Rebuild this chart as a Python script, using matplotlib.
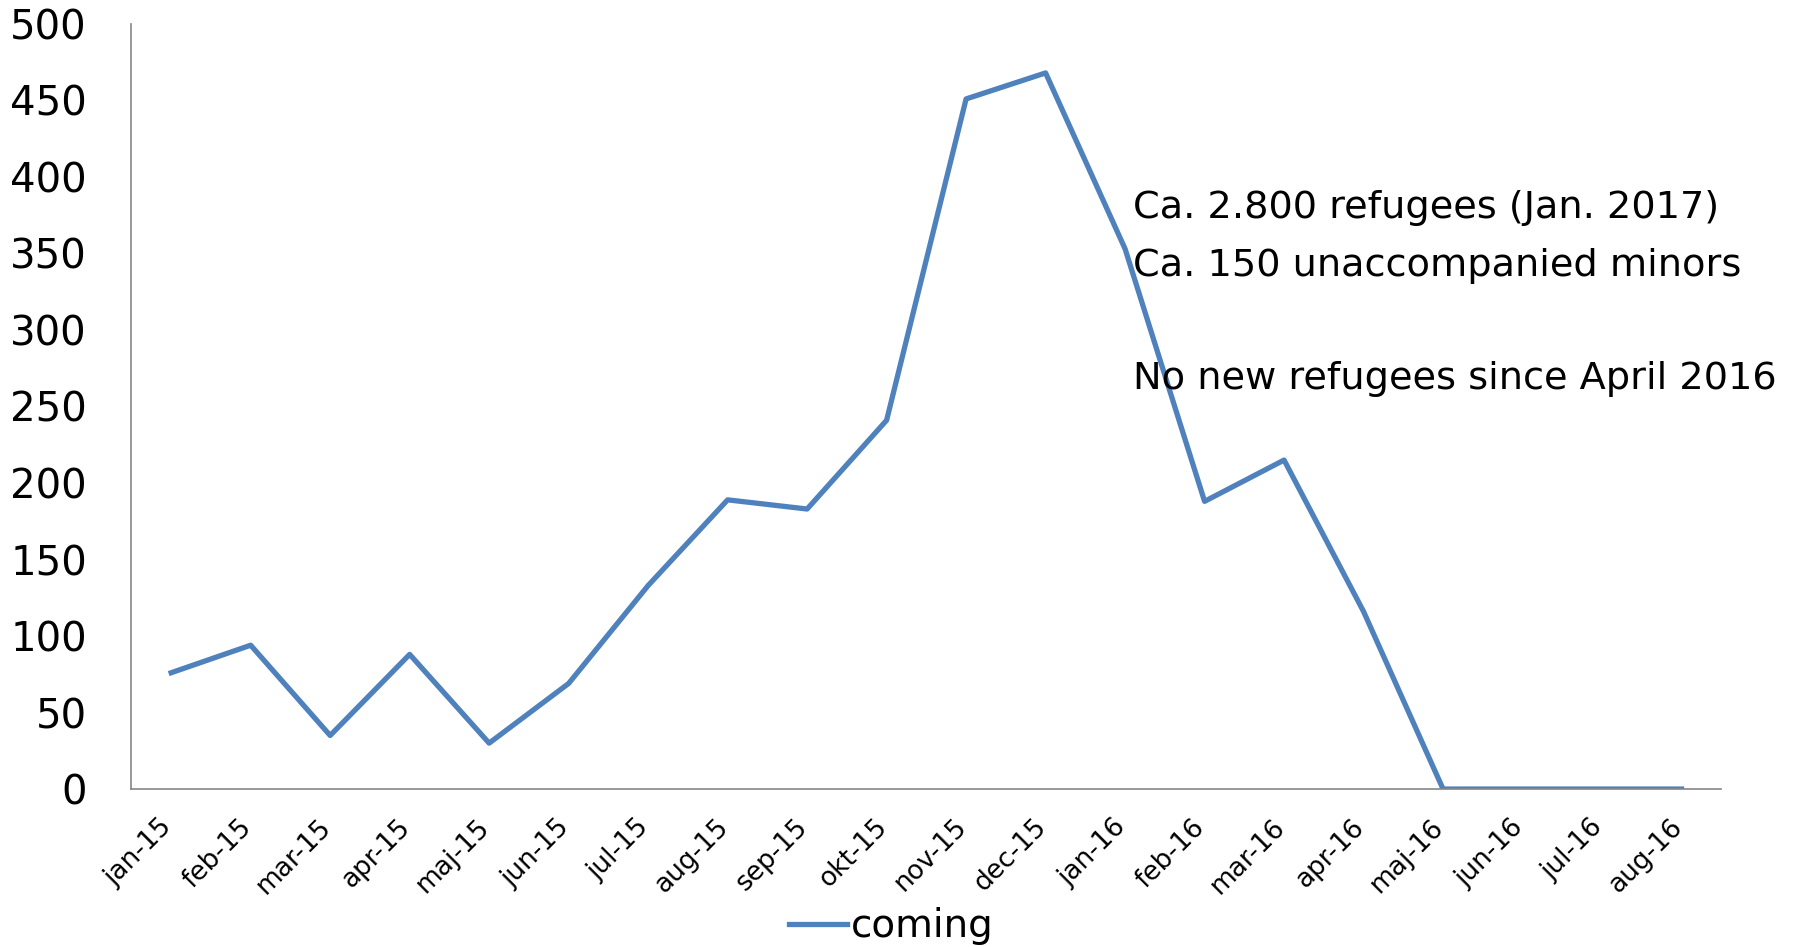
import matplotlib
matplotlib.use("Agg")
import matplotlib.pyplot as plt
import matplotlib.transforms as mtransforms

months = ["jan-15", "feb-15", "mar-15", "apr-15", "maj-15", "jun-15", "jul-15",
          "aug-15", "sep-15", "okt-15", "nov-15", "dec-15", "jan-16", "feb-16",
          "mar-16", "apr-16", "maj-16", "jun-16", "jul-16", "aug-16"]
coming = [76, 94, 35, 88, 30, 69, 133, 189, 183, 241, 451, 468, 353, 188,
          215, 116, 0, 0, 0, 0]
notes = ["Ca. 2.800 refugees (Jan. 2017)", "Ca. 150 unaccompanied minors",
         "No new refugees since April 2016"]

fig = plt.figure(figsize=(17.93, 9.47), dpi=100)
ax = fig.add_axes([0.0733, 0.1668, 0.8867, 0.8079])

x = list(range(len(months)))
ax.plot(x, coming, color="#4F81BD", linewidth=3.8, label="coming")

ax.set_xlim(-0.5, len(months) - 0.5)
ax.set_ylim(0, 500)
ax.set_yticks(range(0, 501, 50))
ax.set_xticks(x)
ax.set_xticklabels(months, rotation=45, ha="right", rotation_mode="anchor", fontsize=19)
ax.tick_params(axis="y", labelsize=29, length=0, pad=32)
ax.tick_params(axis="x", length=0, pad=18)

# nudge the x labels a bit left so they end under the point
shift = mtransforms.ScaledTranslation(-9 / 72, 0, fig.dpi_scale_trans)
for lab in ax.get_xticklabels():
    lab.set_transform(lab.get_transform() + shift)

for s in ["top", "right"]:
    ax.spines[s].set_visible(False)
for s in ["left", "bottom"]:
    ax.spines[s].set_color("#868686")
    ax.spines[s].set_linewidth(1.2)

# annotation block on the right
ax.text(12.1, 380, notes[0], fontsize=27.5, va="center", ha="left")
ax.text(12.1, 342, notes[1], fontsize=27.5, va="center", ha="left")
ax.text(12.1, 268, notes[2], fontsize=27.5, va="center", ha="left")

ax.legend(loc="center", bbox_to_anchor=(0.497, 0.022), bbox_transform=fig.transFigure,
          frameon=False, fontsize=28, handlelength=1.5, handletextpad=0.1)

fig.savefig("out.png", dpi=100)
